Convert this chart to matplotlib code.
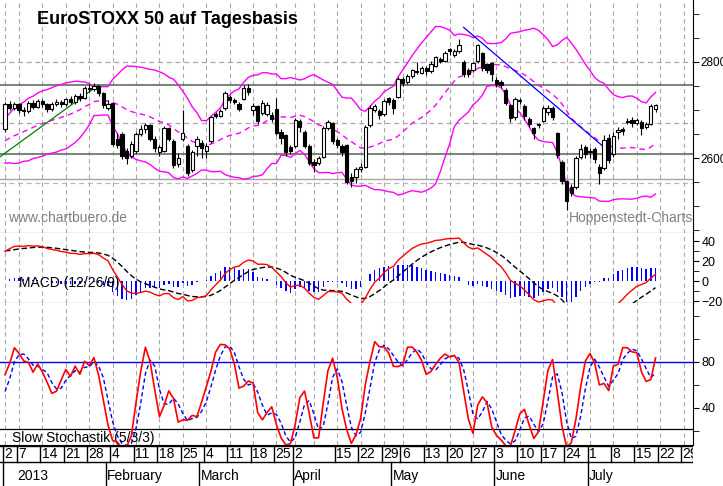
import numpy as np
import pandas as pd
import matplotlib
matplotlib.use("Agg")
import matplotlib.pyplot as plt

plt.rcParams["font.family"] = "Liberation Sans"

# ---------------- data ----------------
prior_close = [2520, 2505, 2470, 2480, 2468, 2470, 2455, 2440, 2435, 2432, 2460, 2485, 2490, 2510,
               2525, 2530, 2515, 2535, 2560, 2575, 2590, 2595, 2610, 2620, 2612, 2625, 2615, 2630,
               2640, 2635, 2650, 2655, 2645, 2660, 2640, 2640, 2635, 2630, 2636, 2635]
prior_high = [2662, 2665, 2668, 2670, 2652, 2650, 2648, 2642, 2646, 2645, 2644, 2648]
prior_low = [2638, 2642, 2640, 2648, 2630, 2630, 2626, 2620, 2624, 2622, 2626, 2620]

opens = [2660, 2712, 2705, 2712, 2700, 2697, 2715, 2706, 2718, 2712, 2702, 2712, 2716, 2712, 2722, 2716,
         2730, 2725, 2746, 2744, 2750, 2735, 2705, 2715, 2640, 2650, 2615, 2605, 2615, 2650, 2660, 2668,
         2640, 2612, 2615, 2662, 2635, 2588, 2640, 2625, 2575, 2625, 2632, 2615, 2635, 2692, 2688, 2705,
         2728, 2720, 2713, 2722, 2745, 2700, 2708, 2694, 2692, 2690, 2702, 2655, 2648, 2622, 2625, 2678,
         2655, 2625, 2592, 2590, 2602, 2662, 2672, 2638, 2625, 2628, 2560, 2560, 2578, 2582, 2668, 2700,
         2698, 2692, 2725, 2720, 2728, 2765, 2758, 2770, 2782, 2778, 2788, 2782, 2792, 2806, 2803, 2826,
         2815, 2822, 2800, 2783, 2783, 2801, 2818, 2795, 2797, 2762, 2758, 2742, 2710, 2685, 2720, 2708,
         2682, 2662, 2668, 2678, 2695, 2705, 2652, 2592, 2552, 2540, 2540, 2602, 2622, 2612, 2618, 2582,
         2580, 2642, 2608, 2655, 2660, 2678, 2680, 2672, 2676, 2665, 2670, 2703]
closes = [2712, 2705, 2712, 2700, 2697, 2715, 2706, 2718, 2712, 2702, 2712, 2716, 2712, 2722, 2716, 2730,
          2725, 2746, 2744, 2750, 2735, 2710, 2712, 2630, 2628, 2605, 2600, 2630, 2650, 2660, 2668, 2640,
          2620, 2622, 2662, 2640, 2585, 2600, 2652, 2568, 2612, 2640, 2620, 2625, 2685, 2688, 2698, 2735,
          2720, 2716, 2703, 2745, 2738, 2708, 2678, 2714, 2710, 2682, 2652, 2642, 2612, 2615, 2680, 2665,
          2625, 2590, 2585, 2600, 2662, 2675, 2635, 2628, 2612, 2550, 2552, 2578, 2582, 2665, 2705, 2708,
          2690, 2718, 2716, 2705, 2765, 2757, 2770, 2783, 2780, 2787, 2782, 2795, 2810, 2803, 2818, 2822,
          2822, 2835, 2776, 2774, 2797, 2835, 2788, 2783, 2776, 2754, 2752, 2715, 2683, 2722, 2718, 2688,
          2670, 2652, 2670, 2704, 2705, 2685, 2606, 2552, 2510, 2528, 2600, 2618, 2608, 2615, 2598, 2568,
          2638, 2595, 2645, 2658, 2656, 2675, 2672, 2680, 2663, 2670, 2708, 2710]
highs = [2716, 2718, 2716, 2714, 2706, 2718, 2720, 2722, 2723, 2714, 2716, 2722, 2720, 2726, 2730, 2734,
         2735, 2750, 2755, 2756, 2752, 2738, 2720, 2716, 2652, 2655, 2620, 2635, 2655, 2668, 2672, 2670,
         2645, 2628, 2666, 2665, 2640, 2610, 2700, 2630, 2616, 2645, 2638, 2632, 2688, 2696, 2702, 2740,
         2732, 2724, 2716, 2752, 2755, 2714, 2710, 2720, 2716, 2695, 2725, 2660, 2650, 2628, 2684, 2682,
         2658, 2630, 2598, 2605, 2666, 2680, 2675, 2642, 2630, 2630, 2568, 2582, 2590, 2668, 2710, 2712,
         2702, 2722, 2728, 2724, 2768, 2768, 2774, 2786, 2800, 2792, 2792, 2802, 2813, 2810, 2822, 2830,
         2828, 2848, 2805, 2788, 2800, 2838, 2820, 2798, 2800, 2768, 2762, 2745, 2712, 2728, 2725, 2712,
         2686, 2665, 2674, 2708, 2710, 2708, 2655, 2595, 2555, 2545, 2604, 2630, 2628, 2620, 2622, 2588,
         2648, 2650, 2655, 2664, 2664, 2684, 2685, 2684, 2680, 2676, 2712, 2712]
lows = [2655, 2700, 2700, 2694, 2688, 2693, 2702, 2704, 2706, 2696, 2698, 2708, 2706, 2709, 2712, 2712,
        2718, 2722, 2738, 2740, 2730, 2705, 2700, 2625, 2620, 2598, 2588, 2600, 2610, 2645, 2652, 2635,
        2612, 2605, 2612, 2635, 2580, 2582, 2635, 2562, 2570, 2605, 2600, 2600, 2632, 2684, 2685, 2700,
        2715, 2712, 2698, 2720, 2732, 2690, 2670, 2690, 2688, 2676, 2648, 2630, 2605, 2608, 2620, 2655,
        2620, 2585, 2572, 2585, 2600, 2658, 2630, 2620, 2605, 2545, 2540, 2548, 2572, 2580, 2665, 2695,
        2682, 2688, 2710, 2692, 2725, 2750, 2755, 2766, 2776, 2775, 2772, 2778, 2790, 2798, 2800, 2815,
        2810, 2818, 2768, 2768, 2780, 2798, 2782, 2778, 2760, 2748, 2745, 2710, 2676, 2680, 2712, 2680,
        2664, 2640, 2662, 2675, 2690, 2680, 2600, 2545, 2492, 2520, 2535, 2598, 2600, 2600, 2590, 2545,
        2575, 2590, 2602, 2640, 2648, 2670, 2665, 2668, 2648, 2660, 2668, 2695]

holidays = ["2013-03-29", "2013-04-01", "2013-05-01"]
all_days = [d for d in pd.bdate_range("2013-01-02", "2013-08-02") if d.strftime("%Y-%m-%d") not in holidays]

price_ticks = [2600, 2800]
macd_ticks = [40, 20, 0, -20]
stoch_ticks = [80, 40]
month_names = ["2013", "February", "March", "April", "May", "June", "July"]

green_trend = ([-1, 20], [2603, 2752])
blue_trend = ([98, 130], [2872, 2606])
support_lines = [2752, 2608]
light_lines = [2556, 2549]
dash_levels = [2800, 2672]

# ---------------- indicators ----------------
n = len(closes)
allc = pd.Series(prior_close + closes, dtype=float)
np_ = len(prior_close)
sma = allc.rolling(20).mean()
sd = allc.rolling(20).std(ddof=0)
up = (sma + 2 * sd).values[np_:]
lo = (sma - 2 * sd).values[np_:]
mid = sma.values[np_:]
ema12 = allc.ewm(span=12, adjust=False).mean()
ema26 = allc.ewm(span=26, adjust=False).mean()
macd = (ema12 - ema26)
sig = macd.ewm(span=9, adjust=False).mean()
macd_v = macd.values[np_:]
sig_v = sig.values[np_:]
hist = macd_v - sig_v

H = pd.Series(prior_high + highs, dtype=float)
L = pd.Series(prior_low + lows, dtype=float)
C = pd.Series(prior_close[-len(prior_high):] + closes, dtype=float)
k = 100 * (C - L.rolling(5).min()) / (H.rolling(5).max() - L.rolling(5).min())
slowk = k.rolling(3).mean()
slowd = slowk.rolling(3).mean()
off = len(prior_high)
slowk = slowk.values[off:]
slowd = slowd.values[off:]

x = np.arange(n)

# ---------------- layout ----------------
W, Hh = 723, 486
fig = plt.figure(figsize=(W / 100, Hh / 100), dpi=100)
def add(y0, y1):
    return fig.add_axes([0, 1 - y1 / Hh, 693 / W, (y1 - y0) / Hh])

ax1 = add(0, 233)
ax2 = add(233, 303)
ax3 = add(303, 445)
ax4 = add(445, 486)

per = 4.68
xl = (-5 / per, (693 - 5) / per)

week_ticks = []
last_week = None
for i, d in enumerate(all_days):
    wk = d.isocalendar()[1]
    if wk != last_week:
        week_ticks.append(i)
        last_week = wk

for ax in (ax1, ax2, ax3):
    ax.set_xlim(*xl)
    for s in ("top", "left"):
        ax.spines[s].set_visible(False)
    ax.spines["bottom"].set_linewidth(0.8)
    ax.yaxis.tick_right()
    ax.set_xticks([])
    ax.tick_params(axis="y", labelsize=9, length=4, pad=2)
    for t in week_ticks:
        ax.axvline(t, color="#a8a8a8", ls=(0, (4, 3)), lw=0.8, zorder=0)

# price panel
ax1.set_ylim(2444, 2929)
for lv in dash_levels:
    ax1.axhline(lv, color="#b0a0b0", ls=(0, (4, 3)), lw=0.9, zorder=0)
for lv in support_lines:
    ax1.axhline(lv, color="#607060", lw=1.2, zorder=1)
ax1.axhline(light_lines[0], color="#a0a8a0", lw=1.0, zorder=1)
ax1.axhline(light_lines[1], color="#c0b0c0", ls=(0, (4, 3)), lw=0.9, zorder=1)
ax1.plot(x, up, color="#ff00ff", lw=1.0, zorder=2)
ax1.plot(x, lo, color="#ff00ff", lw=1.0, zorder=2)
ax1.plot(x, mid, color="#ff00ff", lw=1.0, ls=(0, (4, 3)), zorder=2)
ax1.plot(*green_trend, color="#008000", lw=0.9, zorder=3)
ax1.plot(*blue_trend, color="#0000ff", lw=0.9, zorder=3)
for i in range(n):
    o, c = opens[i], closes[i]
    ax1.vlines(i, lows[i], highs[i], color="black", lw=0.8, zorder=4)
    bot, top = min(o, c), max(o, c)
    hgt = max(top - bot, 1.5)
    ax1.bar(i, hgt, bottom=bot, width=0.7, color="white" if c >= o else "black",
            edgecolor="black", linewidth=0.8, zorder=5)
ax1.set_yticks(price_ticks)
ax1.set_yticks(np.arange(2450, 2901, 50), minor=True)
ax1.tick_params(axis="y", which="minor", length=4)
ax1.tick_params(axis="y", which="major", labelsize=8.5, pad=1.5)
ax1.text(37 / 693, 1 - 20 / 233, "EuroSTOXX 50 auf Tagesbasis", transform=ax1.transAxes,
         fontsize=13, fontweight="bold", va="center", ha="left")
ax1.text(8 / 693, 1 - 218 / 233, "www.chartbuero.de", transform=ax1.transAxes,
         fontsize=10, color="#808080", va="center")
ax1.text(569 / 693, 1 - 218 / 233, "Hoppenstedt-Charts", transform=ax1.transAxes,
         fontsize=10, color="#808080", va="center")

# MACD panel
ax2.set_ylim(-22, 48)
ax2.bar(x, hist, width=0.3, color="#0000ff", zorder=2)
ax2.plot(x, sig_v, color="black", lw=1.0, ls=(0, (4, 2)), zorder=3)
ax2.plot(x, macd_v, color="#ff0000", lw=1.0, zorder=4)
ax2.set_yticks(macd_ticks)
ax2.set_yticks([30, 10, -10], minor=True)
ax2.tick_params(axis="y", which="minor", length=4)
ax2.text(19 / 693, 1 - 50 / 70, "MACD (12/26/9)", transform=ax2.transAxes, fontsize=10, va="center")

# Stochastic panel
ax3.set_ylim(7.8, 131)
ax3.axhline(80, color="#0000ff", lw=1.0)
ax3.axhline(22, color="black", lw=0.9)
ax3.plot(x, slowd, color="#0000ff", lw=1.0, ls=(0, (3, 2)), zorder=3)
ax3.plot(x, slowk, color="#ff0000", lw=1.2, zorder=4)
ax3.set_yticks(stoch_ticks)
ax3.set_yticks([20, 60, 100, 120], minor=True)
ax3.tick_params(axis="y", which="minor", length=4)
ax3.text(12 / 693, 1 - 135 / 142, "Slow Stochastik (5/3/3)", transform=ax3.transAxes,
         fontsize=10, va="center")

# date axis
ax4.set_xlim(*xl)
ax4.set_ylim(0, 41)
ax4.axis("off")
ax4.axhline(40.5, color="black", lw=1)
ax4.axhline(24, color="black", lw=1)
ax4.plot([xl[1], xl[1]], [24, 41], color="black", lw=1)
for t in week_ticks:
    d = all_days[t]
    if d.strftime("%Y-%m-%d") == "2013-04-08":
        continue
    ax4.plot([t - 0.5, t - 0.5], [24, 41], color="black", lw=1)
    ax4.text(t - 0.2, 32, str(d.day), fontsize=10, va="center", ha="left", clip_on=True)
mstarts = [0] + [i for i in range(1, n) if all_days[i].month != all_days[i - 1].month]
for j, i in enumerate(mstarts):
    ax4.plot([i - 0.5, i - 0.5], [0, 24], color="black", lw=1)
    ax4.text(i - 0.2 + (2.8 if j == 0 else 0), 10, month_names[j], fontsize=10, va="center", ha="left")

fig.savefig("out.png", dpi=100)
